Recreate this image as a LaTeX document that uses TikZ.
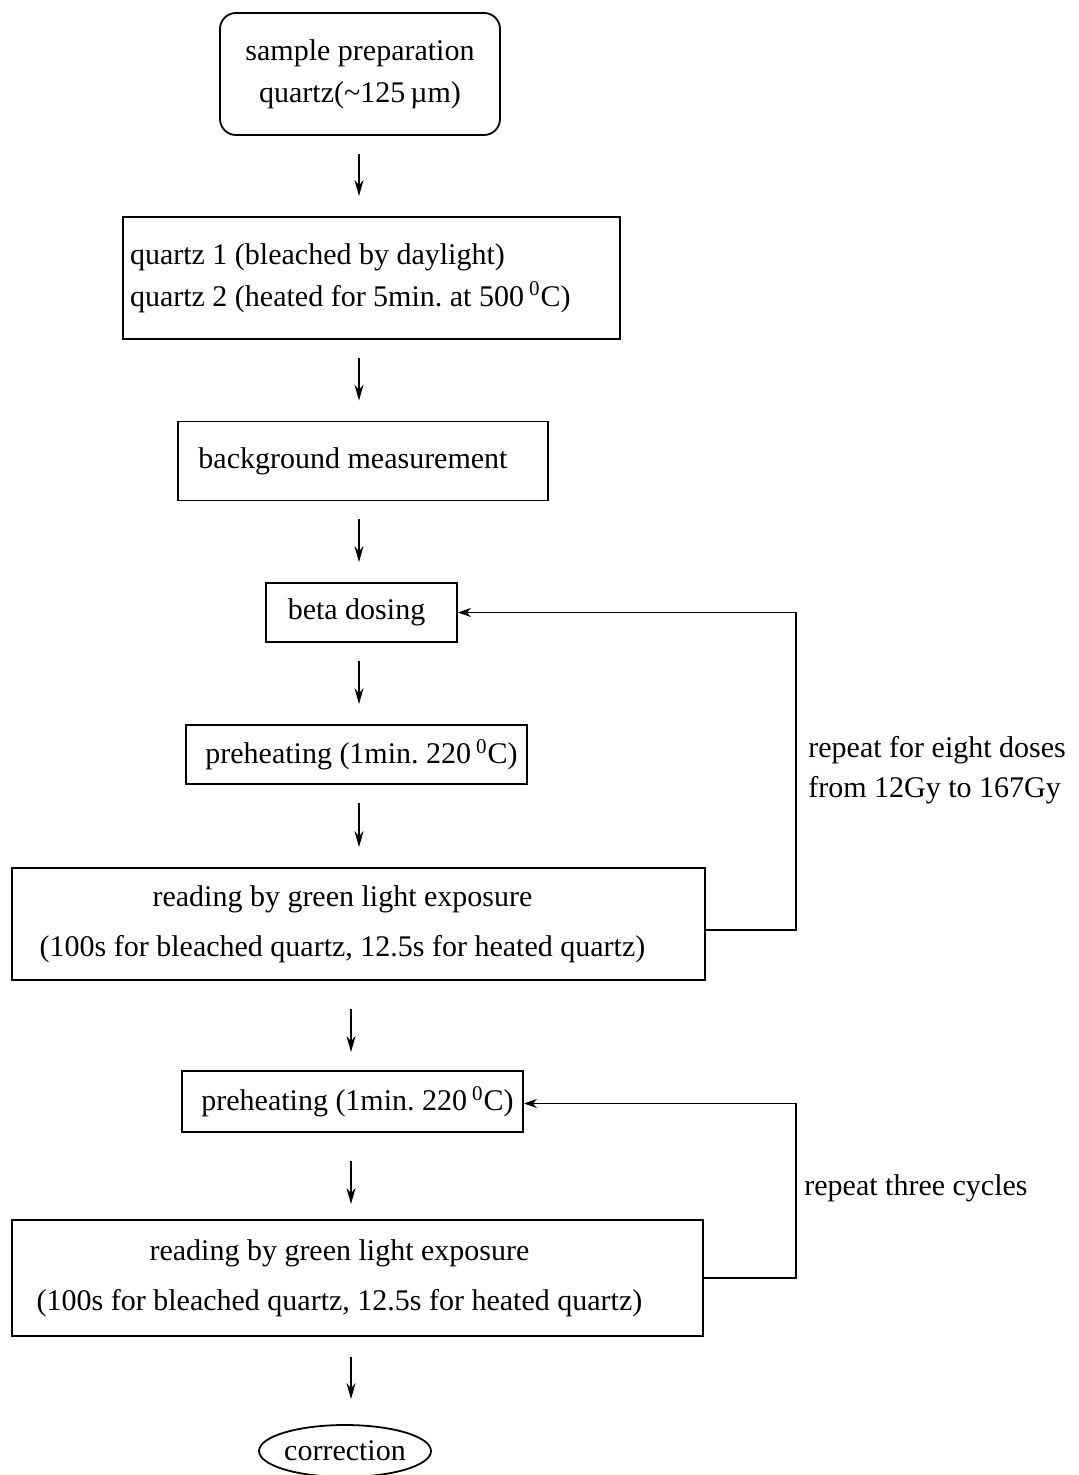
\documentclass[tikz,border=0pt]{standalone}
\usepackage{fontspec}
\setmainfont{Liberation Serif}
\usetikzlibrary{arrows.meta,shapes.geometric}
\frenchspacing

\begin{document}
\begin{tikzpicture}[x=0.5pt,y=-0.5pt,
    every node/.style={font=\fontsize{15}{21}\selectfont},
    box/.style={draw,line width=0.9pt,inner sep=0pt,align=center},
    arr/.style={-{Stealth[length=8pt,width=4.5pt]},line width=0.6pt,shorten <=9pt,shorten >=10pt},
    back/.style={-{Stealth[length=6.5pt,width=4.5pt,inset=2pt]},line width=0.7pt}]
    \useasboundingbox (0,0) rectangle (1078,1475);

    \node[box,rounded corners=8pt,minimum width=140pt,minimum height=61pt] (prep) at (360,74) {sample preparation\\ quartz(\textasciitilde125\,µm)};
    \node[box,align=flush left,inner xsep=3.5pt,text width=241.5pt,minimum height=61pt] (quartz) at (371.5,278) {quartz 1 (bleached by daylight)\\ quartz 2 (heated for 5min. at 500\,\textsuperscript{0}C)};
    \node[box,minimum width=185pt,minimum height=39.5pt,label={[xshift=-5pt]center:background measurement}] (bg) at (363,461) {};
    \node[box,minimum width=95.5pt,minimum height=29.5pt,label={[xshift=-2.5pt]center:beta dosing}] (beta) at (361.5,612.5) {};
    \node[box,minimum width=170.5pt,minimum height=29.5pt,label={[xshift=2.5pt]center:preheating (1min. 220\,\textsuperscript{0}C)}] (pre1) at (356.5,754.5) {};
    \node[box,minimum width=346.5pt,minimum height=56pt,label={[xshift=-8pt,align=center,font=\fontsize{15}{25}\selectfont]center:{reading by green light exposure\\ (100s for bleached quartz, 12.5s for heated quartz)}}] (read1) at (358.5,924) {};
    \node[box,minimum width=170.5pt,minimum height=30.5pt,label={[xshift=2.5pt]center:preheating (1min. 220\,\textsuperscript{0}C)}] (pre2) at (352.5,1101.5) {};
    \node[box,minimum width=345.5pt,minimum height=58pt,label={[xshift=-9pt,align=center,font=\fontsize{15}{25}\selectfont]center:{reading by green light exposure\\ (100s for bleached quartz, 12.5s for heated quartz)}}] (read2) at (357.5,1278) {};
    \node[draw,ellipse,line width=0.9pt,inner sep=0pt,minimum width=85pt,minimum height=26pt] (corr) at (345,1451) {correction};

    \node[anchor=west,inner sep=0pt,align=left,font=\fontsize{15}{20}\selectfont] (rep1) at (808,770) {repeat for eight doses\\ from 12Gy to 167Gy};
    \node[anchor=west,inner sep=0pt] (rep2) at (804,1188) {repeat three cycles};

    \coordinate (c1) at (359,0);
    \coordinate (c2) at (351,0);
    \draw[arr] (prep.south -| c1) -- (quartz.north -| c1);
    \draw[arr] (quartz.south -| c1) -- (bg.north -| c1);
    \draw[arr] (bg.south -| c1) -- (beta.north -| c1);
    \draw[arr] (beta.south -| c1) -- (pre1.north -| c1);
    \draw[arr] (pre1.south -| c1) -- (read1.north -| c1);
    \draw[arr,shorten <=14pt,shorten >=9pt] (read1.south -| c2) -- (pre2.north -| c2);
    \draw[arr,shorten <=14pt,shorten >=7.5pt] (pre2.south -| c2) -- (read2.north -| c2);
    \draw[arr,shorten <=10pt,shorten >=12.5pt] (read2.south -| c2) -- (corr.north -| c2);

    \draw[back] ([yshift=-3pt]read1.east) -- ++(90,0) |- (beta.east);
    \draw[back] (read2.east) -- ++(92,0) |- ([yshift=-1pt]pre2.east);
\end{tikzpicture}
\end{document}
